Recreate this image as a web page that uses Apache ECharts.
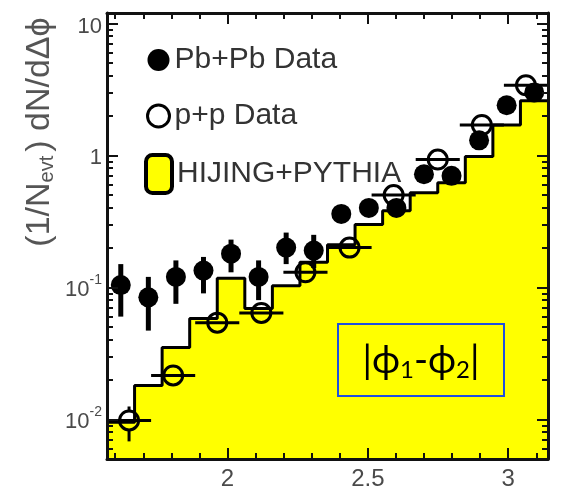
<!DOCTYPE html>
<html>
<head>
<meta charset="utf-8">
<script src="https://cdn.jsdelivr.net/npm/echarts@6/dist/echarts.min.js"></script>
<style>
  html, body { margin: 0; padding: 0; background: #ffffff; }
  #chart { width: 563px; height: 493px; }
</style>
</head>
<body>
<div id="chart"></div>
<script>
// ---------------- data ----------------
// x axis: |phi1 - phi2| from pi/2 to pi
const xMin = Math.PI / 2;
const xMax = Math.PI;
const xTickLabels = [2, 2.5, 3];
const xMinorTicks = [1.6, 1.7, 1.8, 1.9, 2.1, 2.2, 2.3, 2.4, 2.6, 2.7, 2.8, 2.9, 3.1];
const yTickValues = [0.01, 0.1, 1, 10];
const yTickLabels = ['{b|10}{s|-2}', '{b|10}{s|-1}', '{b|1}', '{b|10}'];
const yMinorTicks = [0.006, 0.007, 0.008, 0.009,
  0.02, 0.03, 0.04, 0.05, 0.06, 0.07, 0.08, 0.09,
  0.2, 0.3, 0.4, 0.5, 0.6, 0.7, 0.8, 0.9,
  2, 3, 4, 5, 6, 7, 8, 9];

// 16 bins of width pi/32 (HIJING+PYTHIA histogram and Pb+Pb points)
const fineBinWidth = Math.PI / 32;
const hijingValues = [0.0095, 0.018, 0.035, 0.058, 0.117, 0.069, 0.103, 0.155,
  0.21, 0.30, 0.38, 0.52, 0.62, 0.98, 1.7, 2.6];
const pbpbValues = [0.104, 0.084, 0.12, 0.134, 0.18, 0.12, 0.2, 0.19,
  0.36, 0.40, 0.40, 0.72, 0.70, 1.3, 2.4, 3.0];
const pbpbLow = [0.06, 0.047, 0.075, 0.09, 0.13, 0.08, 0.15, 0.14,
  0.32, 0.36, 0.36, 0.66, 0.64, 1.2, 2.25, 2.85];
const pbpbHigh = [0.15, 0.12, 0.16, 0.17, 0.23, 0.16, 0.26, 0.25,
  0.40, 0.44, 0.44, 0.78, 0.76, 1.4, 2.55, 3.15];

// 10 bins of width pi/20 (p+p points)
const coarseBinWidth = Math.PI / 20;
const ppValues = [0.0098, 0.0215, 0.054, 0.064, 0.13, 0.2, 0.5, 0.93, 1.7, 3.4];
const ppLow = [0.0068, 0.019, 0.049, 0.058, 0.12, 0.185, 0.47, 0.88, 1.62, 3.25];
const ppHigh = [0.0125, 0.024, 0.059, 0.07, 0.14, 0.215, 0.53, 0.98, 1.78, 3.55];

const seriesNames = ['Pb+Pb Data', 'p+p Data', 'HIJING+PYTHIA'];

// ---------------- build series data ----------------
const hijingData = hijingValues.map((v, i) => [xMin + i * fineBinWidth, v]);
hijingData.push([xMax, hijingValues[hijingValues.length - 1]]);
const pbpbData = pbpbValues.map((v, i) => [xMin + (i + 0.5) * fineBinWidth, v]);
const pbpbErr = pbpbValues.map((v, i) => [xMin + (i + 0.5) * fineBinWidth, pbpbLow[i], pbpbHigh[i]]);
const ppData = ppValues.map((v, i) => [xMin + (i + 0.5) * coarseBinWidth, v]);
const ppErr = ppValues.map((v, i) => {
  const xc = xMin + (i + 0.5) * coarseBinWidth;
  return [xc, v, xc - coarseBinWidth / 2, xc + coarseBinWidth / 2, ppLow[i], ppHigh[i]];
});

const FONT = '"Liberation Sans", Arial, Helvetica, sans-serif';
const AX = '#111';
const LBL = '#4a4a4a';
const PP_SIZE = 19;

function xAxisCfg(pos, major) {
  return {
    type: 'value', min: xMin, max: xMax, position: pos, z: 10,
    axisLine: { show: major, lineStyle: { color: AX, width: 3 } },
    axisTick: { show: true, inside: true, length: major ? 11 : 6,
      lineStyle: { color: AX, width: 2 },
      customValues: major ? xTickLabels : xMinorTicks },
    axisLabel: { show: major && pos === 'bottom', customValues: xTickLabels,
      margin: 8, fontSize: 24, color: LBL, fontFamily: FONT,
      formatter: v => String(v) },
    splitLine: { show: false }
  };
}
function yAxisCfg(pos, major) {
  return {
    type: 'log', logBase: 10, min: 0.005, max: 12, position: pos, z: 10,
    axisLine: { show: major, lineStyle: { color: AX, width: 3 } },
    axisTick: { show: true, inside: true, length: major ? 11 : 6,
      lineStyle: { color: AX, width: 2 },
      customValues: major ? yTickValues : yMinorTicks },
    axisLabel: { show: major && pos === 'left', customValues: yTickValues,
      margin: 5, color: LBL, fontFamily: FONT,
      formatter: v => {
        const idx = yTickValues.findIndex(t => Math.abs(Math.log10(t) - Math.log10(v)) < 1e-6);
        return idx >= 0 ? yTickLabels[idx] : '';
      },
      rich: {
        b: { fontSize: 22, color: LBL, fontFamily: FONT, lineHeight: 28, verticalAlign: 'bottom' },
        s: { fontSize: 14, color: LBL, fontFamily: FONT, lineHeight: 14, verticalAlign: 'top' }
      }
    },
    splitLine: { show: false }
  };
}

const chart = echarts.init(document.getElementById('chart'), null, { renderer: 'canvas' });
const option = {
  animation: false,
  backgroundColor: '#ffffff',
  grid: { left: 107, right: 15, top: 13, bottom: 34, containLabel: false },
  xAxis: [xAxisCfg('bottom', true), xAxisCfg('bottom', false), xAxisCfg('top', true), xAxisCfg('top', false)],
  yAxis: [yAxisCfg('left', true), yAxisCfg('left', false), yAxisCfg('right', true), yAxisCfg('right', false)],
  legend: [
    {
      data: [
        { name: seriesNames[0], icon: 'circle', itemStyle: { color: '#000', opacity: 1 } },
        { name: seriesNames[1], icon: 'circle',
          itemStyle: { color: '#fff', borderColor: '#000', borderWidth: 3, opacity: 1 } }
      ],
      orient: 'vertical', left: 141, top: 40,
      itemWidth: 22, itemHeight: 22, itemGap: 26, itemTextGap: 10,
      selectedMode: false,
      textStyle: { fontSize: 30, color: '#333', fontFamily: FONT, lineHeight: 30 }
    },
    {
      data: [
        { name: seriesNames[2], icon: 'roundRect',
          itemStyle: { color: '#ffff00', borderColor: '#000', borderWidth: 4 } }
      ],
      orient: 'vertical', left: 139, top: 148,
      itemWidth: 26, itemHeight: 38, itemTextGap: 8,
      selectedMode: false,
      textStyle: { fontSize: 30, color: '#333', fontFamily: FONT, lineHeight: 30 }
    }
  ],
  series: [
    {
      name: seriesNames[2], type: 'line', step: 'end', data: hijingData,
      showSymbol: false, symbol: 'none', z: 2,
      lineStyle: { color: '#000', width: 3 },
      itemStyle: { color: '#ffff00', borderColor: '#000' },
      areaStyle: { color: '#ffff00', opacity: 1, origin: 'start' }
    },
    {
      name: 'pbpbErr', type: 'custom', data: pbpbErr, z: 3,
      encode: { x: 0, y: [1, 2] },
      renderItem: (params, api) => {
        const x = api.value(0);
        const a = api.coord([x, api.value(1)]);
        const b = api.coord([x, api.value(2)]);
        return { type: 'line', shape: { x1: a[0], y1: a[1], x2: b[0], y2: b[1] },
          style: { stroke: '#000', lineWidth: 5 } };
      }
    },
    {
      name: seriesNames[0], type: 'scatter', data: pbpbData, z: 4,
      symbol: 'circle', symbolSize: 20,
      itemStyle: { color: '#000', opacity: 1 }
    },
    {
      name: 'ppErr', type: 'custom', data: ppErr, z: 5,
      encode: { x: [0, 2, 3], y: [1, 4, 5] },
      renderItem: (params, api) => {
        const x = api.value(0), y = api.value(1);
        const c = api.coord([x, y]);
        const h1 = api.coord([api.value(2), y]);
        const h2 = api.coord([api.value(3), y]);
        const v1 = api.coord([x, api.value(4)]);
        const v2 = api.coord([x, api.value(5)]);
        const r = PP_SIZE / 2;
        const kids = [
          { type: 'line', shape: { x1: h1[0], y1: h1[1], x2: h2[0], y2: h2[1] },
            style: { stroke: '#000', lineWidth: 3 } }
        ];
        if (v1[1] > c[1] + r) kids.push({ type: 'line',
          shape: { x1: c[0], y1: c[1] + r, x2: v1[0], y2: v1[1] },
          style: { stroke: '#000', lineWidth: 3 } });
        if (v2[1] < c[1] - r) kids.push({ type: 'line',
          shape: { x1: c[0], y1: c[1] - r, x2: v2[0], y2: v2[1] },
          style: { stroke: '#000', lineWidth: 3 } });
        return { type: 'group', children: kids };
      }
    },
    {
      name: seriesNames[1], type: 'scatter', data: ppData, z: 6,
      symbol: 'circle', symbolSize: PP_SIZE,
      itemStyle: { color: 'rgba(0,0,0,0)', borderColor: '#000', borderWidth: 3, opacity: 1 }
    }
  ],
  graphic: [
    {
      type: 'text', x: 40, y: 132, rotation: Math.PI / 2, z: 20,
      style: {
        text: '{m|(1/N}{s|evt}{m|) dN/dΔϕ}',
        align: 'center', verticalAlign: 'middle',
        fill: '#555', font: '34px ' + FONT,
        rich: {
          m: { fontSize: 34, fill: '#555', fontFamily: FONT, lineHeight: 34, verticalAlign: 'top' },
          s: { fontSize: 20, fill: '#555', fontFamily: FONT, lineHeight: 20, padding: [22, 4, 0, 0], verticalAlign: 'bottom' }
        }
      }
    },
    {
      type: 'rect', shape: { x: 338, y: 324, width: 166, height: 72 }, z: 20,
      style: { fill: 'none', stroke: '#1f4fe0', lineWidth: 2 }
    },
    {
      type: 'text', x: 421, y: 362, z: 21,
      style: {
        text: '{m||ϕ}{s|1}{m|-ϕ}{s|2}{m||}',
        align: 'center', verticalAlign: 'middle',
        rich: {
          m: { fontSize: 38, fill: '#000', fontFamily: 'Lato, "Noto Sans", sans-serif', lineHeight: 40, verticalAlign: 'top' },
          s: { fontSize: 24, fill: '#000', fontFamily: 'Lato, "Noto Sans", sans-serif', lineHeight: 24, padding: [26, 0, 0, 0], verticalAlign: 'bottom' }
        }
      }
    }
  ]
};
chart.setOption(option);
</script>
</body>
</html>
